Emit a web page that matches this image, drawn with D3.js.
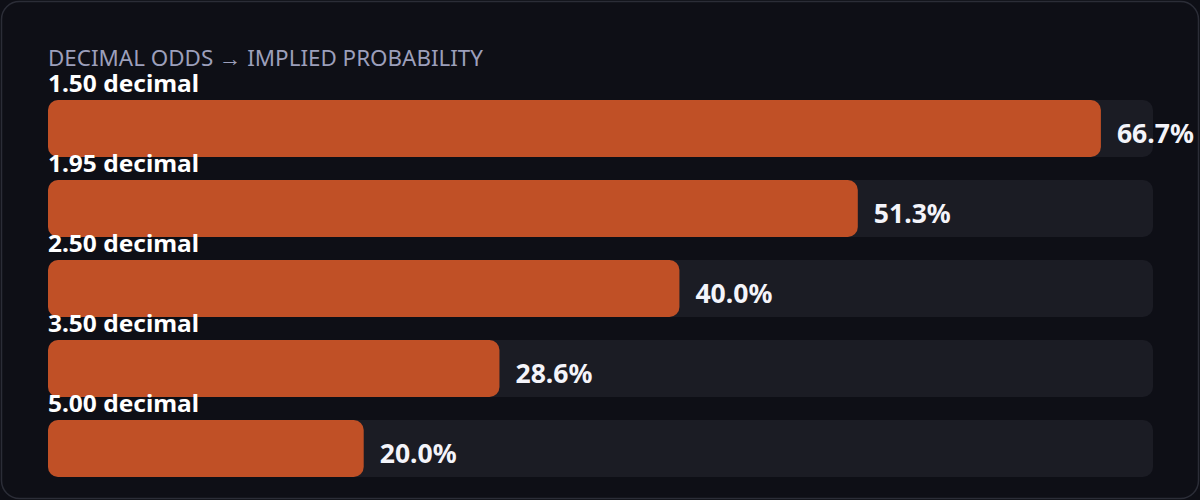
<!DOCTYPE html>
<html><head><meta charset="utf-8">
<script src="https://cdn.jsdelivr.net/npm/d3@7"></script>
<style>
html,body{margin:0;padding:0;background:#0e0f16;}
svg{display:block;}
</style></head>
<body>
<svg id="chart" width="1200" height="500"></svg>
<script>
const title = "DECIMAL ODDS → IMPLIED PROBABILITY";
const categories = ["1.50 decimal","1.95 decimal","2.50 decimal","3.50 decimal","5.00 decimal"];
const values = [66.7, 51.3, 40.0, 28.6, 20.0];
const valueLabels = ["66.7%","51.3%","40.0%","28.6%","20.0%"];
const domainMax = 70;

const svg = d3.select("#chart");
svg.append("rect").attr("x",1.5).attr("y",1.5).attr("width",1197).attr("height",497)
  .attr("rx",18).attr("fill","#0e0f16").attr("stroke","#2b2d37").attr("stroke-width",1.5);

const font = "'Noto Sans', 'Open Sans', sans-serif";
svg.append("text").attr("x",48).attr("y",65.5).attr("fill","#9c9fbb")
  .attr("font-family",font).attr("font-size",22)
  .attr("textLength",435).attr("lengthAdjust","spacingAndGlyphs").text(title);

const x = d3.scaleLinear().domain([0, domainMax]).range([48, 1153]);
const y = d3.scaleBand().domain(categories).range([100, 500]).paddingInner(0).paddingOuter(0);
const barH = 57;

const g = svg.selectAll("g.row").data(categories).join("g").attr("class","row");
g.append("rect").attr("x",x(0)).attr("y",d=>y(d)).attr("width",x(domainMax)-x(0)).attr("height",barH)
  .attr("rx",10).attr("fill","#1b1c24");
g.append("rect").attr("x",x(0)).attr("y",d=>y(d)).attr("width",(d,i)=>x(values[i])-x(0)).attr("height",barH)
  .attr("rx",10).attr("fill","#c05026");
g.append("text").attr("x",48).attr("y",d=>y(d)-8).attr("fill","#ffffff")
  .attr("font-family",font).attr("font-weight",700).attr("font-size",23)
  .attr("textLength",151).attr("lengthAdjust","spacingAndGlyphs").text(d=>d);
g.append("text").attr("x",(d,i)=>x(values[i])+16).attr("y",d=>y(d)+barH/2+14.5)
  .attr("fill","#f4f4fa").attr("font-family",font).attr("font-weight",700).attr("font-size",26)
  .attr("textLength",77).attr("lengthAdjust","spacingAndGlyphs")
  .text((d,i)=>valueLabels[i]);
</script>
</body></html>
